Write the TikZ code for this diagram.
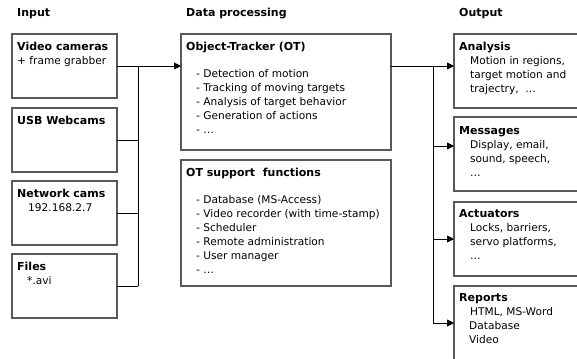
\documentclass[tikz,border=0pt]{standalone}
\usepackage{fontspec}
\setmainfont{DejaVu Sans}
\usetikzlibrary{arrows.meta}
\newcommand{\boxttl}[1]{{\fontsize{11}{14}\selectfont\bfseries #1}}

\begin{document}
\begin{tikzpicture}[x=1pt,y=-1pt,
    box/.style={draw=black!65,line width=1.1pt,anchor=north west,inner sep=0pt,outer sep=0pt},
    txt/.style={anchor=north west,inner sep=0pt,align=left,font=\fontsize{10.6}{14}\selectfont},
    hd/.style={anchor=west,inner sep=0pt,font=\fontsize{11}{14}\selectfont\bfseries},
    wire/.style={line width=0.9pt},
    feed/.style={wire,-{Triangle[length=7pt,width=7pt]}}]
  % page, and cut off what runs past it
  \useasboundingbox (0,0) rectangle (577,358);
  \clip (0,0) rectangle (577,358);
  % column heads
  \node[hd] (hin) at (17,14) {Input};
  \node[hd] (hdp) at (186,14) {Data processing};
  \node[hd] (hout) at (459,14) {Output};
  %% input column
  \node[box,minimum width=105pt,minimum height=64pt] (vid) at (12,34) {};
  \node[box,minimum width=105pt,minimum height=64pt] (usb) at (12,108) {};
  \node[box,minimum width=105pt,minimum height=64pt] (net) at (12,181) {};
  \node[box,minimum width=105pt,minimum height=64pt] (fil) at (12,254) {};
  \node[txt] (vidt) at (17,42) {\boxttl{Video cameras}\\+ frame grabber};
  \node[txt] (usbt) at (17,116) {\boxttl{USB Webcams}};
  \node[txt] (nett) at (17,189) {\boxttl{Network cams}\\\hspace*{11pt}192.168.2.7};
  \node[txt] (filt) at (17,262) {\boxttl{Files}\\\hspace*{10pt}*.avi};
  %% processing column
  \node[box,minimum width=210pt,minimum height=116pt] (ot) at (181,34) {};
  \node[box,minimum width=210pt,minimum height=126pt] (sup) at (181,160) {};
  \node[txt] (ott) at (186,42) {\boxttl{Object-Tracker (OT)}};
  \node[txt] (otl) at (196,69) {- Detection of motion\\- Tracking of moving targets\\- Analysis of target behavior\\- Generation of actions\\- \dots};
  \node[txt] (supt) at (186,168) {\boxttl{OT support\ \ functions}};
  \node[txt] (supl) at (196,195) {- Database (MS-Access)\\- Video recorder (with time-stamp)\\- Scheduler\\- Remote administration\\- User manager\\- \dots};
  %% output column
  \node[box,minimum width=140pt,minimum height=74pt] (ana) at (454,34) {};
  \node[box,minimum width=140pt,minimum height=74pt] (msg) at (454,117) {};
  \node[box,minimum width=140pt,minimum height=74pt] (act) at (454,202) {};
  \node[box,minimum width=140pt,minimum height=100pt] (rep) at (454,286) {};
  \node[txt] (anat) at (459,42) {\boxttl{Analysis}\\\hspace*{11pt}Motion in regions,\\\hspace*{11pt}target motion and\\\hspace*{11pt}trajectry,\ \ \dots};
  \node[txt] (msgt) at (459,126) {\boxttl{Messages}\\\hspace*{11pt}Display, email,\\\hspace*{11pt}sound, speech,\\\hspace*{11pt}\dots};
  \node[txt] (actt) at (459,209) {\boxttl{Actuators}\\\hspace*{11pt}Locks, barriers,\\\hspace*{11pt}servo platforms,\\\hspace*{11pt}\dots};
  \node[txt] (rept) at (459,293) {\boxttl{Reports}\\\hspace*{11pt}HTML, MS-Word\\\hspace*{10pt}Database\\\hspace*{10pt}Video};
  % bus lines
  \coordinate (inbus) at (138,66);
  \coordinate (outbus) at (433,66);
  \foreach \b in {vid,usb,net,fil}
    \draw[wire] (\b.east) -- (\b.east -| inbus);
  \draw[wire] (inbus) -- (inbus |- fil.east);
  \draw[feed] (inbus) -- (inbus -| ot.west);
  \draw[wire] (outbus -| ot.east) -- (outbus);
  \draw[feed] (outbus) -- (outbus -| ana.west);
  \draw[wire] (outbus) -- (433,323);
  \foreach \b/\y in {msg/146,act/239,rep/323}
    \draw[feed] (433,\y) -- (\b.west |- 0,\y);
\end{tikzpicture}
\end{document}
